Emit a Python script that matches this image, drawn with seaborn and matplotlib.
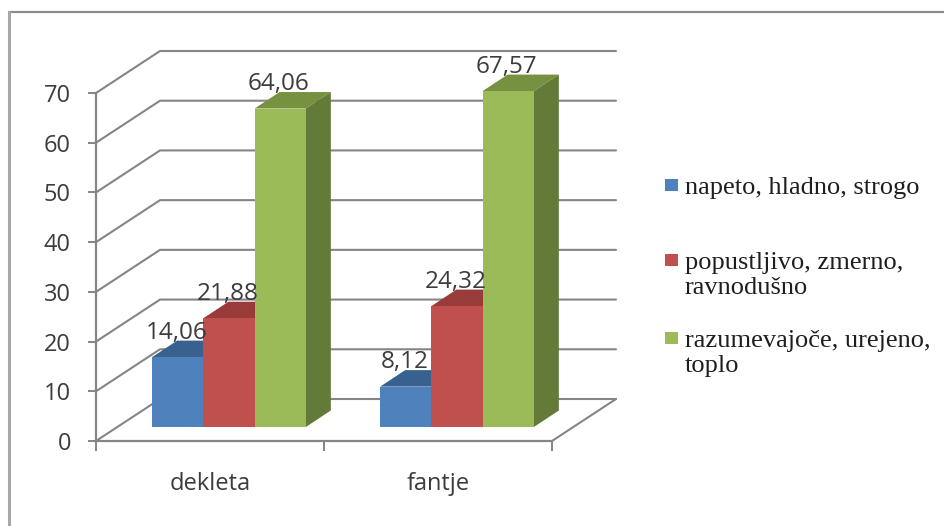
import pandas as pd
import matplotlib.pyplot as plt
from matplotlib.lines import Line2D
from matplotlib.patches import Polygon, Rectangle
import seaborn as sns

# chart values
groups = ["dekleta", "fantje"]
answers = ["napeto, hladno, strogo", "popustljivo, zmerno,\nravnodušno", "razumevajoče, urejeno,\ntoplo"]
tense = [14.06, 8.12]
lenient = [21.88, 24.32]
warm = [64.06, 67.57]
y_ticks = [0, 10, 20, 30, 40, 50, 60, 70]

front_colors = ["#4F81BD", "#C0504D", "#9BBB59"]
top_colors = ["#38618F", "#983B39", "#779140"]
side_colors = ["#38618F", "#983B39", "#647A38"]

df = pd.DataFrame({
    "group": groups * 3,
    "answer": [answers[0]] * 2 + [answers[1]] * 2 + [answers[2]] * 2,
    "value": tense + lenient + warm,
})

sns.set_theme(style="white")
plt.rcParams["font.family"] = ["Open Sans", "DejaVu Sans"]

W, H = 945, 526
fig = plt.figure(figsize=(W / 100, H / 100), dpi=100, facecolor="white")
ax = fig.add_axes([96 / W, (H - 441) / H, 456 / W, 348 / H])

sns.barplot(data=df, x="group", y="value", hue="answer", palette=front_colors,
            saturation=1, width=0.674, gap=0, legend=False, ax=ax, zorder=3)
ax.set_xlim(-0.5, 1.5)
ax.set_ylim(0, 70)
ax.set_xlabel("")
ax.set_ylabel("")
ax.patch.set_alpha(0)

grey = "#858585"
text_grey = "#3C3C3C"

# depth of the fake 3d box, in data units
wall_dx, wall_dy = 64 / 228, 42 / (348 / 70)
bar_shift_x, bar_shift_y = 19 / 228, 14 / (348 / 70)
bar_dx, bar_dy = 25 / 228, 16.5 / (348 / 70)

# back wall and the lines running to it
for t in y_ticks:
    ax.plot([-0.5, -0.5 + wall_dx, 1.5 + wall_dx], [t, t + wall_dy, t + wall_dy],
            color=grey, lw=1.5, clip_on=False, zorder=1)
ax.plot([1.5, 1.5 + wall_dx], [0, wall_dy], color=grey, lw=1.5, clip_on=False, zorder=1)

# move the bars into the box and give them a top and a side
for i, bars in enumerate(ax.containers):
    for bar in bars:
        bar.set_x(bar.get_x() + bar_shift_x)
        bar.set_y(bar_shift_y)
        bar.set_clip_on(False)
        bar.set_linewidth(0)
        x0, x1 = bar.get_x(), bar.get_x() + bar.get_width()
        y0, y1 = bar.get_y(), bar.get_y() + bar.get_height()
        ax.add_patch(Polygon([(x0, y1), (x1, y1), (x1 + bar_dx, y1 + bar_dy), (x0 + bar_dx, y1 + bar_dy)],
                             closed=True, fc=top_colors[i], lw=0, clip_on=False, zorder=2.5))
        ax.add_patch(Polygon([(x1, y0), (x1 + bar_dx, y0 + bar_dy), (x1 + bar_dx, y1 + bar_dy), (x1, y1)],
                             closed=True, fc=side_colors[i], lw=0, clip_on=False, zorder=2.5))
        ax.annotate(f"{bar.get_height():.2f}".replace(".", ","),
                    ((x0 + x1) / 2, y1), xytext=(-1, 17.5), textcoords="offset points",
                    ha="center", va="center", fontsize=17.5, color=text_grey, zorder=5,
                    annotation_clip=False)

# axes
for side in ["top", "right"]:
    ax.spines[side].set_visible(False)
for side in ["left", "bottom"]:
    ax.spines[side].set_color(grey)
    ax.spines[side].set_linewidth(1.6)
ax.set_yticks(y_ticks)
ax.tick_params(axis="y", length=6, width=1.4, color=grey, left=True, pad=12, labelsize=17, labelcolor=text_grey)
ax.set_xticks([0, 1])
ax.set_xticklabels(groups)
ax.set_xticks([-0.5, 0.5, 1.5], minor=True)
ax.tick_params(axis="x", which="major", length=0, pad=22, labelsize=17, labelcolor=text_grey)
ax.tick_params(axis="x", which="minor", length=7, width=1.4, color=grey, bottom=True)

# legend
legend_rows = [185, 260, 338]
for color, label, row in zip(front_colors, answers, legend_rows):
    fig.patches.append(Rectangle((665 / W, (H - row - 6) / H), 13 / W, 12 / H, transform=fig.transFigure, fc=color, lw=0))
    fig.text(685 / W, (H - row + 8) / H, label, va="top", ha="left", family="Liberation Serif",
             fontsize=19, color="#1E1E1E", linespacing=1.17)

# only the top and left edge of the chart frame show
fig.add_artist(Line2D([9 / W, 1], [(H - 12) / H, (H - 12) / H], color="#8C8C8C", lw=1.6))
fig.add_artist(Line2D([9 / W, 9 / W], [0, (H - 12) / H], color="#A8A8A8", lw=2.2))

fig.savefig("out.png", dpi=100)
